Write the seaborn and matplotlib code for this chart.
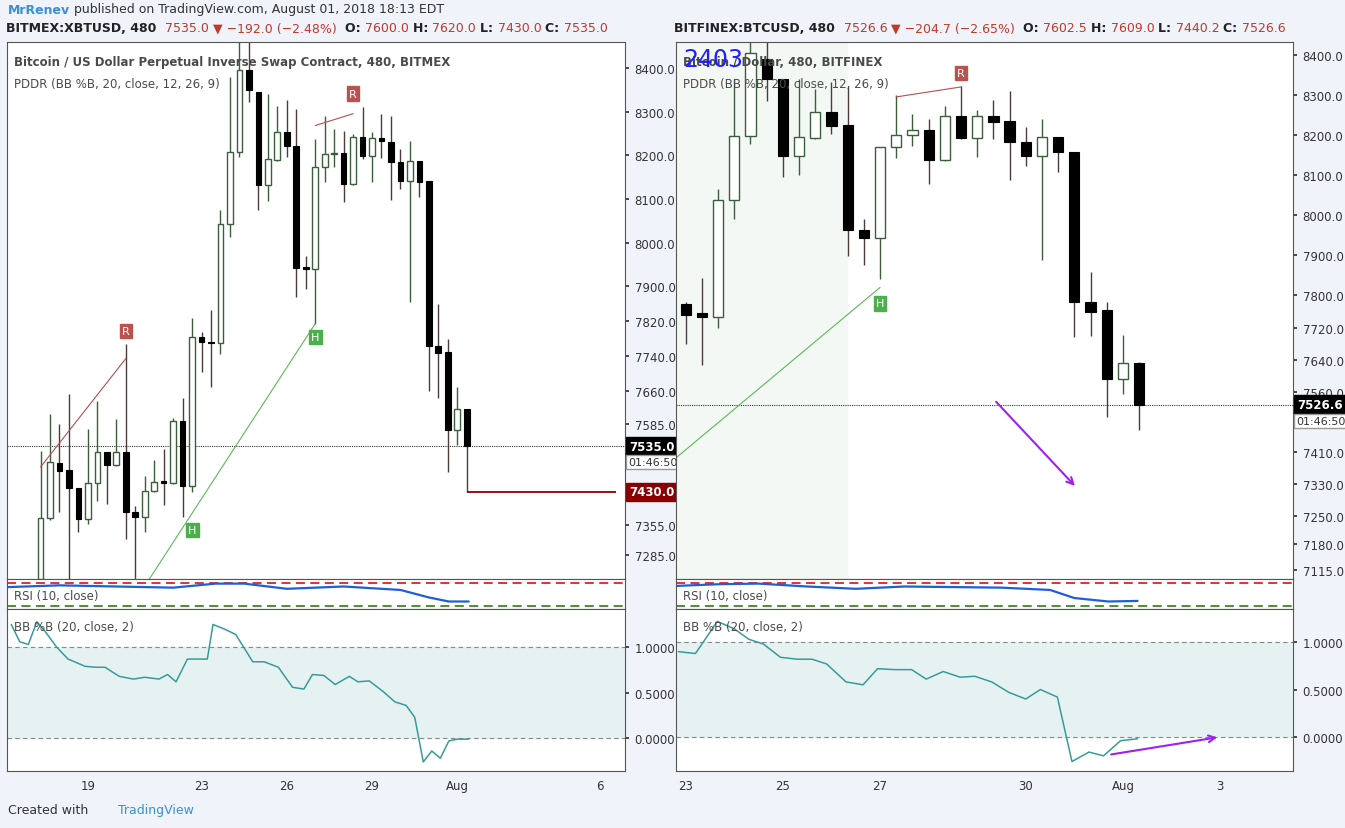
import numpy as np
import pandas as pd
import matplotlib
matplotlib.use("Agg")
import matplotlib.pyplot as plt
import seaborn as sns
from matplotlib.offsetbox import TextArea, HPacker, AnchoredOffsetbox

#%% data (day numbers: Jul 19 = 19, Aug 1 = 32)
left_open = [7231, 7370, 7496, 7480, 7439, 7368, 7450, 7521, 7492, 7521, 7384, 7373, 7432, 7452, 7450, 7592,
             7444, 7785, 7773, 7770, 8043, 8208, 8395, 8345, 8132, 8190, 8254, 8222, 7942, 7940, 8173, 8203,
             8205, 8135, 8242, 8199, 8240, 8231, 8185, 8141, 8187, 8141, 7764, 7750, 7572, 7620]
left_high = [7524, 7608, 7585, 7654, 7439, 7574, 7638, 7521, 7597, 7769, 7398, 7466, 7503, 7528, 7599, 7645,
             7828, 7796, 7846, 8075, 8380, 8466, 8459, 8345, 8341, 8313, 8327, 8306, 7970, 8238, 8290, 8260,
             8256, 8249, 8311, 8254, 8295, 8290, 8215, 8233, 8187, 8141, 7860, 7780, 7670, 7620]
left_low = [7208, 7365, 7384, 7220, 7338, 7357, 7409, 7402, 7490, 7322, 7231, 7338, 7430, 7400, 7448, 7373,
            7430, 7704, 7670, 7746, 8013, 8196, 8322, 8075, 8096, 8188, 8196, 7876, 7894, 7814, 8139, 8173,
            8093, 8133, 8192, 8139, 8194, 8098, 8123, 7865, 8105, 7661, 7645, 7476, 7537, 7430]
left_close = [7370, 7499, 7478, 7439, 7368, 7450, 7521, 7492, 7521, 7384, 7373, 7432, 7453, 7450, 7592, 7444,
              7785, 7773, 7770, 8043, 8208, 8395, 8350, 8132, 8192, 8254, 8222, 7942, 7940, 8173, 8203, 8205,
              8135, 8242, 8199, 8240, 8233, 8185, 8141, 8187, 8139, 7764, 7748, 7572, 7620, 7535]

right_open = [7779, 7756, 7746, 8038, 8198, 8390, 8340, 8148, 8193, 8258, 8225, 7963, 7943, 8170, 8200,
              8213, 8138, 8248, 8193, 8248, 8235, 8183, 8148, 8195, 8158, 7784, 7764, 7592, 7632]
right_high = [7784, 7844, 8066, 8340, 8432, 8432, 8340, 8340, 8315, 8333, 8320, 7991, 8170, 8300, 8253,
              8240, 8273, 8323, 8263, 8288, 8310, 8220, 8240, 8195, 8158, 7859, 7784, 7701, 7634]
right_low = [7679, 7627, 7719, 7991, 8178, 8285, 8096, 8101, 8190, 8203, 7898, 7876, 7841, 8143, 8173,
             8078, 8136, 8190, 8145, 8190, 8088, 8123, 7888, 8108, 7696, 7699, 7497, 7554, 7464]
right_close = [7751, 7746, 8038, 8198, 8405, 8340, 8148, 8195, 8258, 8223, 7963, 7943, 8170, 8200, 8213,
               8138, 8248, 8193, 8248, 8233, 8183, 8148, 8195, 8158, 7784, 7759, 7592, 7632, 7527]

left_start, right_start = 17.33, 23.0

rsi_left_days = [16.2, 18.0, 20.0, 22.0, 23.5, 24.5, 26.0, 28.0, 30.0, 31.0, 31.7, 32.4]
rsi_left = [63, 66, 64, 62, 69, 69, 60, 64, 58, 45, 38, 38]
rsi_right_days = [22.8, 23.7, 24.5, 25.5, 26.5, 27.5, 28.5, 29.5, 30.5, 31.0, 31.7, 32.3]
rsi_right = [65, 68, 69, 64, 60, 64, 63, 62, 58, 44, 38, 39]

bb_left_days = [16.3, 16.6, 16.9, 17.2, 17.5, 17.9, 18.3, 18.9, 19.3, 19.6, 20.1, 20.6, 21.0, 21.5, 21.8,
                22.1, 22.5, 22.8, 23.2, 23.4, 23.8, 24.2, 24.8, 25.2, 25.7, 26.2, 26.6, 26.9, 27.3, 27.7,
                28.2, 28.5, 28.9, 29.4, 29.8, 30.2, 30.5, 30.8, 31.1, 31.4, 31.7, 32.0, 32.4]
bb_left = [1.25, 1.06, 1.03, 1.28, 1.17, 1.0, 0.87, 0.79, 0.78, 0.78, 0.68, 0.65, 0.67, 0.65, 0.70, 0.62,
           0.87, 0.87, 0.87, 1.25, 1.20, 1.14, 0.84, 0.84, 0.78, 0.56, 0.54, 0.70, 0.69, 0.59, 0.68, 0.62,
           0.63, 0.51, 0.40, 0.36, 0.23, -0.26, -0.14, -0.22, -0.03, -0.01, -0.01]
bb_right_days = [22.85, 23.2, 23.4, 23.65, 24.0, 24.3, 24.6, 24.95, 25.3, 25.6, 25.9, 26.3, 26.65, 26.95,
                 27.3, 27.65, 27.95, 28.3, 28.65, 28.95, 29.3, 29.65, 30.0, 30.3, 30.65, 30.95, 31.3, 31.6,
                 31.95, 32.3]
bb_right = [0.90, 0.88, 1.03, 1.22, 1.14, 1.03, 0.98, 0.84, 0.82, 0.82, 0.77, 0.58, 0.55, 0.72, 0.71, 0.71,
            0.61, 0.69, 0.63, 0.64, 0.58, 0.47, 0.40, 0.50, 0.42, -0.26, -0.16, -0.20, -0.04, -0.02]

left_ticks = [7285, 7355, 7585, 7660, 7740, 7820, 7900, 8000, 8100, 8200, 8300, 8400]
right_ticks = [7115, 7180, 7250, 7330, 7410, 7560, 7640, 7720, 7800, 7900, 8000, 8100, 8200, 8300, 8400]
left_dates = [19, 23, 26, 29, 32, 37]
left_date_labels = ["19", "23", "26", "29", "Aug", "6"]
right_dates = [23, 25, 27, 30, 32, 34]
right_date_labels = ["23", "25", "27", "30", "Aug", "3"]
bb_ticks = [0.0, 0.5, 1.0]

#%% figure
sns.set_theme(style="white")
W, H = 1345, 829
fig = plt.figure(figsize=(W / 100, H / 100), dpi=100, facecolor="#f0f3fa")


def axes_px(x0, y0, x1, y1):
    return fig.add_axes([x0 / W, 1 - y1 / H, (x1 - x0) / W, (y1 - y0) / H])


TXT = "#4a4a4a"
UPC, DNC = "#3d5e3d", "#4b3b3b"


def style(ax):
    ax.set_facecolor("white")
    for s in ax.spines.values():
        s.set_color("#555555")
        s.set_linewidth(0.8)
    ax.yaxis.tick_right()
    ax.tick_params(axis="y", labelsize=8.5, colors="#333333", length=3, pad=4)
    ax.tick_params(axis="x", labelsize=8.5, colors="#333333", length=0, pad=6)
    ax.grid(False)


def candles(ax, start, o, h, l, c, width):
    days = start + np.arange(len(o)) / 3
    df = pd.DataFrame(dict(x=days, o=o, h=h, l=l, c=c))
    up = df[df.c >= df.o]
    dn = df[df.c < df.o]
    ax.vlines(up.x, up.l, up.h, color=UPC, lw=1, zorder=2)
    ax.vlines(dn.x, dn.l, dn.h, color=DNC, lw=1, zorder=2)
    ax.bar(up.x, (up.c - up.o).clip(lower=2), bottom=up.o, width=width, color="white",
           edgecolor=UPC, lw=1, zorder=3)
    ax.bar(dn.x, (dn.o - dn.c).clip(lower=4), bottom=dn.c, width=width, color="black",
           edgecolor="black", lw=0.8, zorder=3)


def price_label(ax, y, text, bg):
    ax.annotate(text, xy=(1, y), xycoords=("axes fraction", "data"), xytext=(3, 0),
                textcoords="offset points", va="center", ha="left", fontsize=8.5,
                fontweight="bold", color="white",
                bbox=dict(boxstyle="square,pad=0.25", fc=bg, ec=bg), annotation_clip=False)


def timer_label(ax, y):
    ax.annotate("01:46:50", xy=(1, y), xycoords=("axes fraction", "data"), xytext=(2, 0),
                textcoords="offset points", va="center", fontsize=8, color="#333333",
                bbox=dict(boxstyle="square,pad=0.2", fc="white", ec="#999999"), annotation_clip=False)


def panel(x0, x1, xlim, ylim, yticks, start, o, h, l, c, width, dates, dlabels,
          rsi_d, rsi_v, bb_d, bb_v, bb_ylim):
    ax = axes_px(x0, 43, x1, 580)
    style(ax)
    ax.set_xlim(*xlim)
    ax.set_ylim(*ylim)
    ax.set_yticks(yticks)
    ax.set_yticklabels([f"{t:.1f}" for t in yticks])
    ax.set_xticks([])
    candles(ax, start, o, h, l, c, width)
    ax.axhline(c[-1], color="#333333", lw=0.8, ls=(0, (1, 1)), zorder=1)

    rx = axes_px(x0, 580, x1, 610)
    style(rx)
    rx.set_xlim(*xlim)
    rx.set_ylim(25, 77)
    rx.set_yticks([])
    rx.set_xticks([])
    rx.axhline(70, color="#e0221f", lw=1.3, ls=(0, (5, 3)))
    rx.axhline(30, color="#3a8a1a", lw=1.3, ls=(0, (5, 3)))
    sns.lineplot(x=rsi_d, y=rsi_v, ax=rx, color="#1f5fd6", lw=1.6)
    rx.set_xlabel("")
    rx.text(0.012, 0.45, "RSI (10, close)", transform=rx.transAxes, fontsize=8.5, color=TXT, va="center")

    bx = axes_px(x0, 610, x1, 772)
    style(bx)
    bx.set_xlim(*xlim)
    bx.set_ylim(*bb_ylim)
    bx.set_yticks(bb_ticks)
    bx.set_yticklabels([f"{t:.4f}" for t in bb_ticks])
    bx.axhspan(0, 1, color="#e6f2f2", zorder=0)
    bx.axhline(0, color="#888888", lw=0.8, ls=(0, (4, 3)))
    bx.axhline(1, color="#888888", lw=0.8, ls=(0, (4, 3)))
    sns.lineplot(x=bb_d, y=bb_v, ax=bx, color="#3a9a9a", lw=1.1)
    bx.set_xlabel("")
    bx.set_xticks(dates)
    bx.set_xticklabels(dlabels)
    bx.text(0.012, 0.93, "BB %B (20, close, 2)", transform=bx.transAxes, fontsize=8.5, color=TXT, va="top")
    return ax, rx, bx


axL, rxL, bxL = panel(7, 625, (16.15, 37.9), (7231, 8459), left_ticks, left_start, left_open, left_high,
                      left_low, left_close, 0.2, left_dates, left_date_labels,
                      rsi_left_days, rsi_left, bb_left_days, bb_left, (-0.36, 1.42))
axR, rxR, bxR = panel(676, 1293, (22.8, 35.5), (7093, 8432), right_ticks, right_start, right_open,
                      right_high, right_low, right_close, 0.21, right_dates, right_date_labels,
                      rsi_right_days, rsi_right, bb_right_days, bb_right, (-0.36, 1.35))


def marker(ax, x, y, s, col):
    ax.text(x, y, s, fontsize=8, color="white", ha="center", va="center",
            bbox=dict(boxstyle="square,pad=0.2", fc=col, ec=col), zorder=5)


# left annotations
axL.hlines(7430, 32.33, 37.6, color="#8b0000", lw=1.3)
price_label(axL, 7535, "7535.0", "black")
price_label(axL, 7430, "7430.0", "#8b0000")
timer_label(axL, 7498)
axL.plot([17.33, 20.33], [7487, 7735], color="#b05050", lw=0.8)
axL.plot([27.0, 28.33], [8268, 8295], color="#b05050", lw=0.8)
axL.plot([21.16, 27.0], [7231, 7815], color="#5cb85c", lw=0.8)
marker(axL, 20.33, 7798, "R", "#b85450")
marker(axL, 28.33, 8341, "R", "#b85450")
marker(axL, 22.67, 7343, "H", "#4cae4c")
marker(axL, 27.0, 7784, "H", "#4cae4c")

# right annotations
axR.axvspan(22.8, 26.33, color="#f4f8f4", zorder=0)
price_label(axR, 7527, "7526.6", "black")
timer_label(axR, 7487)
axR.plot([22.8, 27.0], [7395, 7820], color="#5cb85c", lw=0.8)
axR.plot([27.33, 28.67], [8295, 8320], color="#b05050", lw=0.8)
marker(axR, 28.67, 8355, "R", "#b85450")
marker(axR, 27.0, 7780, "H", "#4cae4c")
axR.annotate("", xy=(31.05, 7320), xytext=(29.35, 7540),
             arrowprops=dict(arrowstyle="->", color="#a020f0", lw=1.5))
bxR.annotate("", xy=(34.0, 0.0), xytext=(31.7, -0.19),
             arrowprops=dict(arrowstyle="->", color="#a020f0", lw=1.5))

# titles inside panels
axL.text(0.012, 0.975, "Bitcoin / US Dollar Perpetual Inverse Swap Contract, 480, BITMEX",
         transform=axL.transAxes, fontsize=8.5, color=TXT, fontweight="bold", va="top")
axL.text(0.012, 0.935, "PDDR (BB %B, 20, close, 12, 26, 9)", transform=axL.transAxes,
         fontsize=8.5, color=TXT, va="top")
axR.text(0.012, 0.975, "Bitcoin / Dollar, 480, BITFINEX", transform=axR.transAxes,
         fontsize=8.5, color=TXT, fontweight="bold", va="top")
axR.text(0.012, 0.935, "PDDR (BB %B, 20, close, 12, 26, 9)", transform=axR.transAxes,
         fontsize=8.5, color=TXT, va="top")
axR.text(0.012, 0.99, "2403", transform=axR.transAxes, fontsize=17, color="#2020ff", va="top")


def header_line(x, y, parts):
    boxes = [TextArea(s, textprops=dict(color=col, fontsize=9,
                                        fontweight="bold" if b else "normal")) for s, col, b in parts]
    pack = HPacker(children=boxes, pad=0, sep=0)
    ab = AnchoredOffsetbox(loc="center left", child=pack, pad=0, borderpad=0, frameon=False,
                           bbox_to_anchor=(x / W, 1 - y / H), bbox_transform=fig.transFigure)
    fig.add_artist(ab)


RED = "#c0392b"
DK = "#222222"
header_line(8, 10, [("MrRenev", "#3a8fd6", True),
                    (" published on TradingView.com, August 01, 2018 18:13 EDT", "#333333", False)])
header_line(6, 29, [("BITMEX:XBTUSD, 480  ", DK, True), ("7535.0 ", RED, False),
                    ("▼ −192.0 (−2.48%)  ", RED, False), ("O: ", DK, True), ("7600.0 ", RED, False),
                    ("H: ", DK, True), ("7620.0 ", RED, False), ("L: ", DK, True),
                    ("7430.0 ", RED, False), ("C: ", DK, True), ("7535.0", RED, False)])
header_line(674, 29, [("BITFINEX:BTCUSD, 480  ", DK, True), ("7526.6 ", RED, False),
                      ("▼ −204.7 (−2.65%)  ", RED, False), ("O: ", DK, True), ("7602.5 ", RED, False),
                      ("H: ", DK, True), ("7609.0 ", RED, False), ("L: ", DK, True),
                      ("7440.2 ", RED, False), ("C: ", DK, True), ("7526.6", RED, False)])

fig.text(8 / W, 1 - 811 / H, "Created with", fontsize=9, color="#333333", va="center")
fig.text(118 / W, 1 - 811 / H, "TradingView", fontsize=9, color="#3a8fd6", va="center")

fig.savefig("out.png", dpi=100, facecolor=fig.get_facecolor())
